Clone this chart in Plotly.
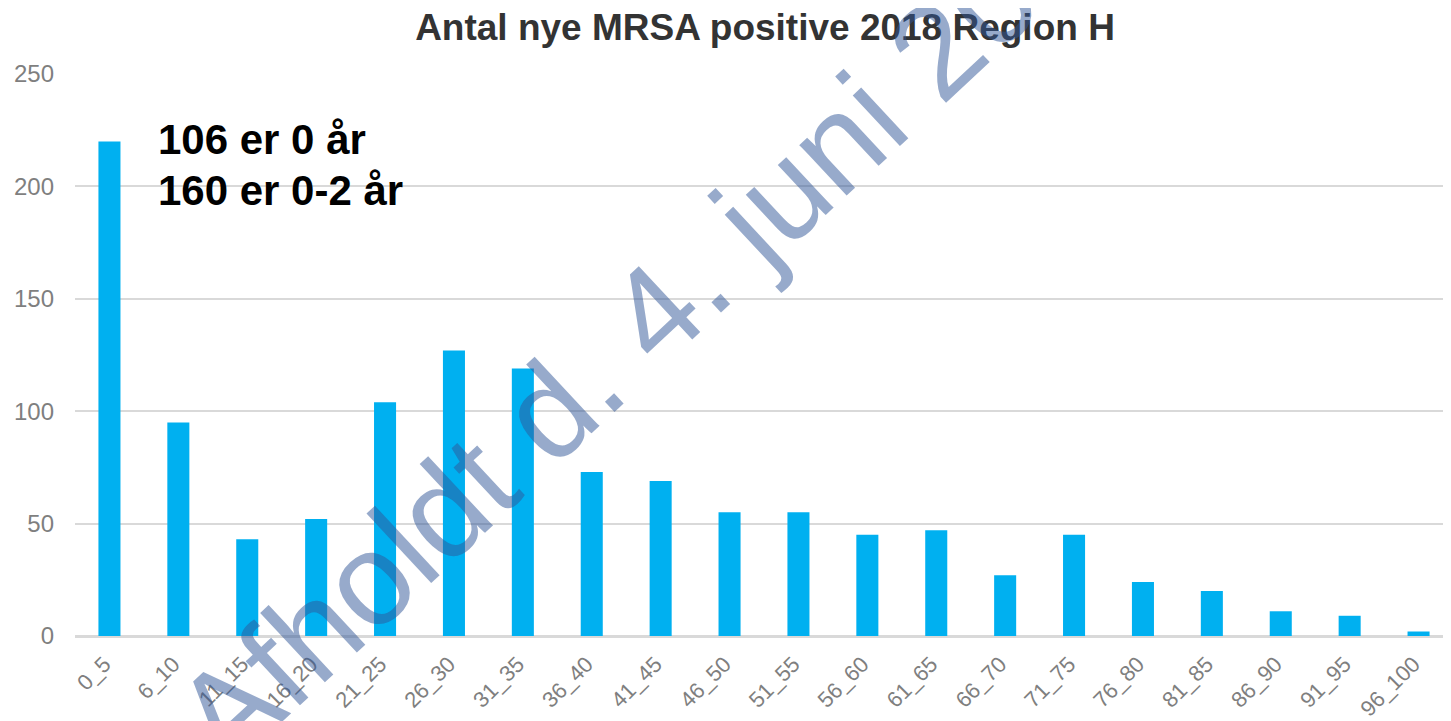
import plotly.graph_objects as go

categories = ["0_5", "6_10", "11_15", "16_20", "21_25", "26_30", "31_35", "36_40", "41_45",
              "46_50", "51_55", "56_60", "61_65", "66_70", "71_75", "76_80", "81_85", "86_90",
              "91_95", "96_100"]
values = [220, 95, 43, 52, 104, 127, 119, 73, 69, 55, 55, 45, 47, 27, 45, 24, 20, 11, 9, 2]
title_text = "Antal nye MRSA positive 2018 Region H"
note_lines = ["106 er 0 år", "160 er 0-2 år"]
watermark = "Afholdt d. 4. juni 2018"

W, H = 1451, 721
OFF = 8  # page body margin
L, R, T, B = 64, 6, 66, 93
PW = W - L - R
PH = H - T - B

fig = go.Figure()
fig.add_trace(go.Bar(x=categories, y=values, marker=dict(color="#00B0F0", line=dict(width=0)),
                     width=0.32))

def px_x(sx):
    return (sx - OFF - L) / PW

def px_y(sy):
    return 1 - (sy - OFF - T) / PH

FONT = "Liberation Sans, Arial, sans-serif"

fig.update_layout(
    width=W, height=H,
    margin=dict(l=L, r=R, t=T, b=B),
    paper_bgcolor="white", plot_bgcolor="white",
    font=dict(family=FONT, color="#7F7F7F", size=22),
    title=dict(text="<b>" + title_text + "</b>", x=(765 - OFF) / W, xanchor="center",
               y=1 - (27 - OFF) / H, yanchor="middle",
               font=dict(size=37, color="#333333", family=FONT)),
    showlegend=False,
    xaxis=dict(tickangle=-45, showgrid=False, showline=False, zeroline=False,
               tickfont=dict(size=22, color="#7F7F7F"), ticks="",
               ticklabelstandoff=10, ticklabelshift=-5),
    yaxis=dict(range=[0, 250], tick0=0, dtick=50, showgrid=True, gridcolor="#D9D9D9",
               gridwidth=1.5, zeroline=True, zerolinecolor="#D9D9D9", zerolinewidth=2.5,
               showline=False, ticks="", ticklabelstandoff=20,
               tickfont=dict(size=24, color="#7F7F7F")),
)

fig.add_annotation(xref="paper", yref="paper", x=px_x(153), y=px_y(140), xanchor="left",
                   yanchor="middle", showarrow=False, align="left",
                   text="<b>" + note_lines[0] + "</b>",
                   font=dict(size=42, color="#000000", family=FONT))
fig.add_annotation(xref="paper", yref="paper", x=px_x(153), y=px_y(190), xanchor="left",
                   yanchor="middle", showarrow=False, align="left",
                   text="<b>" + note_lines[1] + "</b>",
                   font=dict(size=42, color="#000000", family=FONT))

fig.add_annotation(xref="paper", yref="paper", x=px_x(658), y=px_y(307), xanchor="center",
                   yanchor="middle", showarrow=False, textangle=-43,
                   text=watermark,
                   font=dict(size=131, color="rgba(47,85,151,0.5)", family=FONT))

fig.write_html("out.html")
